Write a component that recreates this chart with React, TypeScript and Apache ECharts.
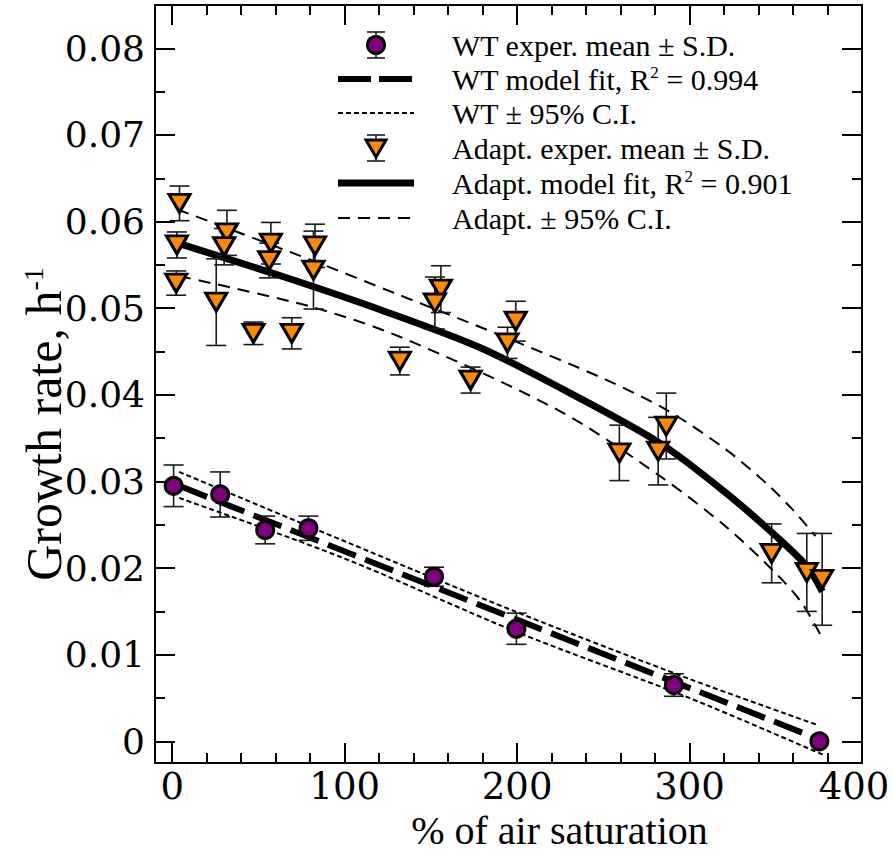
import React, { useEffect, useRef } from 'react';
import * as echarts from 'echarts';

// ---------- data ----------
const wtX = [0.8, 27.8, 53.9, 79.0, 151.8, 199.6, 290.9, 375.3];
const wtY = [0.0295, 0.0285, 0.0244, 0.0246, 0.0190, 0.0130, 0.0065, 0.0000];
const wtSD = [0.0024, 0.0026, 0.0016, 0.0014, 0.0011, 0.0018, 0.0013, 0.0000];

const adaptX = [4.2, 2.7, 2.3, 31.7, 30.1, 25.5, 57.2, 56.2, 82.8, 81.9, 47.1, 69.3, 155.8, 152.3, 199.2, 194.4, 132.0, 173.0, 286.5, 281.8, 259.3, 347.6, 368.0, 376.9];
const adaptY = [0.0621, 0.0573, 0.0529, 0.0587, 0.0571, 0.0507, 0.0575, 0.0555, 0.0572, 0.0544, 0.0471, 0.0471, 0.0522, 0.0506, 0.0485, 0.0460, 0.0439, 0.0417, 0.0364, 0.0335, 0.0333, 0.0217, 0.0195, 0.0187];
const adaptSD = [0.0020, 0.0015, 0.0014, 0.0026, 0.0021, 0.0050, 0.0024, 0.0020, 0.0025, 0.0045, 0.0013, 0.0018, 0.0027, 0.0030, 0.0023, 0.0018, 0.0016, 0.0015, 0.0038, 0.0039, 0.0032, 0.0034, 0.0045, 0.0053];

const wtFitX = [4, 378];
const wtFitY = [0.0295, 0.0000];
const wtUpperX = [4, 100, 200, 300, 374];
const wtUpperY = [0.0311, 0.0231, 0.0149, 0.0072, 0.0019];
const wtLowerX = [4, 100, 200, 300, 378];
const wtLowerY = [0.0281, 0.0211, 0.0126, 0.0050, -0.0016];

const adaptFitX = [5, 65, 121, 178, 225, 283, 321, 350, 368, 377];
const adaptFitY = [0.0574, 0.0536, 0.0498, 0.0455, 0.0408, 0.0344, 0.0287, 0.0237, 0.0202, 0.0173];
const adaptUpperX = [3, 80, 132, 190, 252, 288, 321, 345, 360, 373];
const adaptUpperY = [0.0614, 0.0556, 0.0515, 0.0469, 0.0417, 0.0381, 0.0337, 0.0297, 0.0267, 0.0237];
const adaptLowerX = [4, 80, 132, 225, 283, 321, 350, 365, 377];
const adaptLowerY = [0.0537, 0.0502, 0.0467, 0.0381, 0.0306, 0.0248, 0.0194, 0.0160, 0.0119];

const xMajor = [0, 100, 200, 300, 400];
const xMinor = [20, 40, 60, 80, 120, 140, 160, 180, 220, 240, 260, 280, 320, 340, 360, 380];
const yMajor = [0, 0.01, 0.02, 0.03, 0.04, 0.05, 0.06, 0.07, 0.08];
const yMinor = [0.005, 0.015, 0.025, 0.035, 0.045, 0.055, 0.065, 0.075];

const xTitle = '% of air saturation';
const yTitle = 'Growth rate, h{sup|-1}';
const legendLabels = [
  'WT exper. mean ± S.D.',
  'WT model fit, R{sup|2} = 0.994',
  'WT ± 95% C.I.',
  'Adapt. exper. mean ± S.D.',
  'Adapt. model fit, R{sup|2} = 0.901',
  'Adapt. ± 95% C.I.',
];

const SERIF = 'Liberation Serif';
const TICKFONT = 'DejaVu Serif';
const PURPLE = '#800080';
const ORANGE = '#ff8a00';

const pairs = (xs: number[], ys: number[]) => xs.map((x, i) => [x, ys[i]]);
const triples = (xs: number[], ys: number[], ss: number[]) => xs.map((x, i) => [x, ys[i], ss[i]]);

const errorRender = (params: any, api: any) => {
  const x = api.value(0);
  const y = api.value(1);
  const sd = api.value(2);
  if (!sd) return { type: 'group', children: [] };
  const top = api.coord([x, y + sd]);
  const bot = api.coord([x, y - sd]);
  const cap = 10;
  const style = { stroke: '#1a1a1a', lineWidth: 1.6 };
  return {
    type: 'group',
    children: [
      { type: 'line', shape: { x1: top[0], y1: top[1], x2: bot[0], y2: bot[1] }, style },
      { type: 'line', shape: { x1: top[0] - cap, y1: top[1], x2: top[0] + cap, y2: top[1] }, style },
      { type: 'line', shape: { x1: bot[0] - cap, y1: bot[1], x2: bot[0] + cap, y2: bot[1] }, style },
    ],
  };
};

function makeXAxis(position: string, values: number[], len: number, labels: boolean, line: boolean, name?: string) {
  return {
    type: 'value',
    min: -10,
    max: 400,
    position,
    name: name || '',
    nameLocation: 'middle',
    nameGap: 47,
    nameMoveOverlap: false,
    nameTextStyle: { fontFamily: SERIF, fontSize: 40, color: '#000', padding: [0, 0, 0, 102] },
    axisLine: { show: line, onZero: false, lineStyle: { color: '#000', width: 2 } },
    axisTick: { show: true, inside: true, length: len, customValues: values, lineStyle: { color: '#000', width: 2 } },
    axisLabel: labels
      ? {
          show: true,
          customValues: values,
          fontSize: 37,
          fontFamily: TICKFONT,
          color: '#000',
          margin: 5,
          formatter: (v: number) => (v >= 400 ? '{last|' + v + '}' : String(v)),
          rich: { last: { fontSize: 37, fontFamily: TICKFONT, color: '#000', padding: [0, 16, 0, 0] } },
        }
      : { show: false },
    splitLine: { show: false },
  };
}
function makeYAxis(position: string, values: number[], len: number, labels: boolean, line: boolean, name?: string) {
  return {
    type: 'value',
    min: -0.0025,
    max: 0.085,
    position,
    name: name || '',
    nameLocation: 'middle',
    nameGap: 86,
    nameMoveOverlap: false,
    nameTextStyle: {
      fontFamily: SERIF,
      fontSize: 50,
      color: '#000',
      padding: [0, 80, 0, 0],
      rich: { sup: { fontFamily: SERIF, fontSize: 28, color: '#000', verticalAlign: 'top' } },
    },
    axisLine: { show: line, onZero: false, lineStyle: { color: '#000', width: 2 } },
    axisTick: { show: true, inside: true, length: len, customValues: values, lineStyle: { color: '#000', width: 2 } },
    axisLabel: labels
      ? {
          show: true,
          customValues: values,
          fontSize: 36,
          fontFamily: TICKFONT,
          color: '#000',
          margin: 10,
          formatter: (v: number) => (Math.abs(v) < 1e-9 ? '0' : v.toFixed(2)),
        }
      : { show: false },
    splitLine: { show: false },
  };
}

const legendRows = [45, 79, 113, 148, 183, 218];

function buildLegendSymbols() {
  const rows = legendRows;
  const lx1 = 338;
  const lx2 = 414;
  const sx = 376;
  const els: any[] = [];
  const eb = (cy: number) => [
    { type: 'line', shape: { x1: sx, y1: cy - 13, x2: sx, y2: cy + 13 }, style: { stroke: '#1a1a1a', lineWidth: 1.6 } },
    { type: 'line', shape: { x1: sx - 9, y1: cy - 13, x2: sx + 9, y2: cy - 13 }, style: { stroke: '#1a1a1a', lineWidth: 1.6 } },
    { type: 'line', shape: { x1: sx - 9, y1: cy + 13, x2: sx + 9, y2: cy + 13 }, style: { stroke: '#1a1a1a', lineWidth: 1.6 } },
  ];
  els.push(...eb(rows[0]));
  els.push({ type: 'circle', shape: { cx: sx, cy: rows[0], r: 8.5 }, style: { fill: PURPLE, stroke: '#000', lineWidth: 3 } });
  els.push({ type: 'line', shape: { x1: lx1, y1: rows[1], x2: lx2, y2: rows[1] }, style: { stroke: '#000', lineWidth: 6, lineDash: [33, 8] } });
  els.push({ type: 'line', shape: { x1: lx1, y1: rows[2], x2: lx2, y2: rows[2] }, style: { stroke: '#000', lineWidth: 2, lineDash: [5, 3] } });
  els.push(...eb(rows[3]));
  els.push({
    type: 'polygon',
    shape: { points: [[sx - 10, rows[3] - 8], [sx + 10, rows[3] - 8], [sx, rows[3] + 9]] },
    style: { fill: ORANGE, stroke: '#000', lineWidth: 3 },
  });
  els.push({ type: 'line', shape: { x1: lx1, y1: rows[4], x2: lx2, y2: rows[4] }, style: { stroke: '#000', lineWidth: 7 } });
  els.push({ type: 'line', shape: { x1: lx1, y1: rows[5], x2: lx2, y2: rows[5] }, style: { stroke: '#000', lineWidth: 2, lineDash: [12, 8] } });
  return els;
}

function buildLegendTexts() {
  return legendLabels.map((t, i) => ({
    text: t,
    left: 452,
    top: legendRows[i] - 15,
    padding: 0,
    itemGap: 0,
    textStyle: {
      fontFamily: SERIF,
      fontSize: 30,
      fontWeight: 'normal',
      color: '#000',
      rich: { sup: { fontFamily: SERIF, fontSize: 17, fontWeight: 'normal', color: '#000', verticalAlign: 'top' } },
    },
  }));
}

export default function App() {
  const ref = useRef<HTMLDivElement>(null);
  useEffect(() => {
    if (!ref.current) return;
    const chart = echarts.init(ref.current, undefined, { renderer: 'svg' });
    const option: any = {
      animation: false,
      backgroundColor: '#fff',
      textStyle: { fontFamily: SERIF },
      grid: { left: 155, right: 32, top: 5, bottom: 90, containLabel: false, outerBoundsMode: 'none' },
      title: buildLegendTexts(),
      xAxis: [
        makeXAxis('bottom', xMajor, 20, true, true, xTitle),
        makeXAxis('bottom', xMinor, 10, false, false),
        makeXAxis('top', xMajor, 20, false, true),
        makeXAxis('top', xMinor, 10, false, false),
      ],
      yAxis: [
        makeYAxis('left', yMajor, 20, true, true, yTitle),
        makeYAxis('left', yMinor, 10, false, false),
        makeYAxis('right', yMajor, 20, false, true),
        makeYAxis('right', yMinor, 10, false, false),
      ],
      graphic: buildLegendSymbols(),
      series: [
        {
          name: 'WT + 95% C.I.', type: 'line', data: pairs(wtUpperX, wtUpperY), showSymbol: false, symbol: 'none', smooth: 0.3,
          lineStyle: { color: '#000', width: 2, type: [5, 3] }, z: 2,
        },
        {
          name: 'WT - 95% C.I.', type: 'line', data: pairs(wtLowerX, wtLowerY), showSymbol: false, symbol: 'none', smooth: 0.3,
          lineStyle: { color: '#000', width: 2, type: [5, 3] }, z: 2,
        },
        {
          name: 'WT model fit', type: 'line', data: pairs(wtFitX, wtFitY), showSymbol: false, symbol: 'none',
          lineStyle: { color: '#000', width: 6, type: [30, 10] }, z: 2,
        },
        {
          name: 'Adapt. + 95% C.I.', type: 'line', data: pairs(adaptUpperX, adaptUpperY), showSymbol: false, symbol: 'none', smooth: 0.3,
          lineStyle: { color: '#000', width: 2, type: [12, 8] }, z: 2,
        },
        {
          name: 'Adapt. - 95% C.I.', type: 'line', data: pairs(adaptLowerX, adaptLowerY), showSymbol: false, symbol: 'none', smooth: 0.3,
          lineStyle: { color: '#000', width: 2, type: [12, 8] }, z: 2,
        },
        {
          name: 'Adapt. model fit', type: 'line', data: pairs(adaptFitX, adaptFitY), showSymbol: false, symbol: 'none', smooth: 0.3,
          lineStyle: { color: '#000', width: 7 }, z: 2,
        },
        {
          name: 'WT S.D.', type: 'custom', renderItem: errorRender, data: triples(wtX, wtY, wtSD), z: 3, clip: false,
        },
        {
          name: 'Adapt. S.D.', type: 'custom', renderItem: errorRender, data: triples(adaptX, adaptY, adaptSD), z: 3, clip: false,
        },
        {
          name: 'WT exper. mean', type: 'scatter', data: pairs(wtX, wtY), symbol: 'circle', symbolSize: 17,
          itemStyle: { color: PURPLE, borderColor: '#000', borderWidth: 3, opacity: 1 }, z: 4,
        },
        {
          name: 'Adapt. exper. mean', type: 'scatter', data: pairs(adaptX, adaptY), symbol: 'triangle', symbolRotate: 180,
          symbolSize: [21, 18], itemStyle: { color: ORANGE, borderColor: '#000', borderWidth: 3, opacity: 1 }, z: 4,
        },
      ],
    };
    chart.setOption(option);
    return () => chart.dispose();
  }, []);
  return <div ref={ref} style={{ position: 'absolute', left: 0, top: 0, width: 894, height: 853, background: '#fff' }} />;
}
